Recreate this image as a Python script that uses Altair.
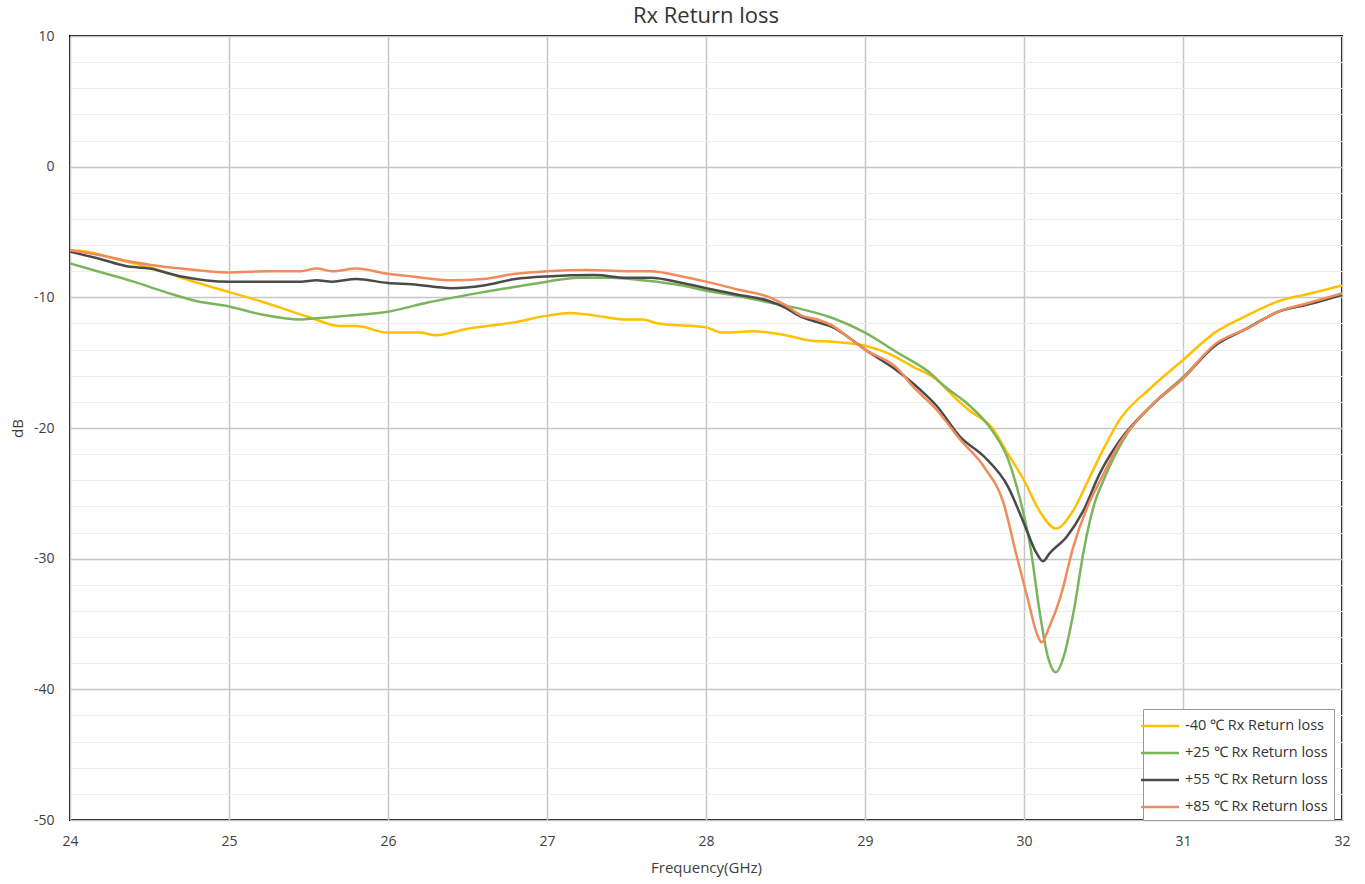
import altair as alt
import pandas as pd

SERIES = ["-40 ℃ Rx Return loss", "+25 ℃ Rx Return loss", "+55 ℃ Rx Return loss", "+85 ℃ Rx Return loss"]
COLORS = ["#FFC000", "#7AB55C", "#4A4A4A", "#F08B5B"]

f_m40 = [24.0, 24.1, 24.3, 24.5, 24.7, 25.0, 25.2, 25.5, 25.7, 25.8, 26.0, 26.2, 26.3, 26.5, 26.8, 27.0, 27.15,
         27.3, 27.5, 27.6, 27.7, 28.0, 28.1, 28.3, 28.5, 28.65, 28.8, 29.0, 29.15, 29.3, 29.45, 29.55, 29.65,
         29.8, 29.9, 30.0, 30.1, 30.2, 30.3, 30.4, 30.5, 30.6, 30.8, 31.0, 31.2, 31.4, 31.6, 31.8, 32.0]
v_m40 = [-6.4, -6.5, -7.1, -7.7, -8.5, -9.6, -10.3, -11.5, -12.2, -12.2, -12.7, -12.7, -12.9, -12.4, -11.9, -11.4,
         -11.2, -11.4, -11.7, -11.7, -12.0, -12.3, -12.7, -12.6, -12.9, -13.3, -13.4, -13.7, -14.3, -15.3, -16.3,
         -17.5, -18.6, -20.0, -22.0, -24.0, -26.4, -27.7, -26.5, -24.1, -21.6, -19.4, -16.9, -14.8, -12.7, -11.4,
         -10.3, -9.7, -9.1]

f_p25 = [24.0, 24.2, 24.4, 24.6, 24.8, 25.0, 25.2, 25.45, 25.55, 25.75, 26.0, 26.25, 26.6, 26.85, 27.0, 27.2, 27.4,
         27.6, 27.85, 28.0, 28.2, 28.4, 28.6, 28.8, 29.0, 29.2, 29.4, 29.5, 29.65, 29.8, 29.9, 29.97, 30.04, 30.1,
         30.15, 30.2, 30.25, 30.31, 30.38, 30.44, 30.5, 30.65, 30.8, 31.0, 31.2, 31.4, 31.6, 31.8, 32.0]
v_p25 = [-7.4, -8.1, -8.8, -9.6, -10.3, -10.7, -11.3, -11.7, -11.6, -11.4, -11.1, -10.4, -9.6, -9.1, -8.8, -8.5,
         -8.5, -8.7, -9.1, -9.5, -9.9, -10.4, -10.9, -11.6, -12.7, -14.2, -15.7, -16.8, -18.2, -20.2, -22.4, -25.2,
         -29.1, -34.2, -37.5, -38.7, -37.5, -34.2, -29.1, -25.9, -24.0, -20.4, -18.3, -16.1, -13.7, -12.4, -11.1,
         -10.5, -9.8]

f_p55 = [24.0, 24.2, 24.35, 24.5, 24.7, 25.0, 25.25, 25.45, 25.55, 25.65, 25.8, 26.0, 26.15, 26.4, 26.6, 26.8, 27.0,
         27.3, 27.5, 27.65, 27.85, 28.0, 28.2, 28.4, 28.5, 28.6, 28.7, 28.8, 28.9, 29.0, 29.2, 29.35, 29.45, 29.6,
         29.75, 29.9, 30.0, 30.08, 30.12, 30.16, 30.27, 30.37, 30.48, 30.6, 30.8, 31.0, 31.2, 31.4, 31.6, 31.8, 32.0]
v_p55 = [-6.5, -7.1, -7.6, -7.8, -8.4, -8.8, -8.8, -8.8, -8.7, -8.8, -8.6, -8.9, -9.0, -9.3, -9.1, -8.6, -8.4,
         -8.3, -8.5, -8.5, -8.9, -9.3, -9.8, -10.3, -10.8, -11.5, -11.9, -12.3, -13.1, -14.0, -15.6, -17.1, -18.3,
         -20.7, -22.2, -24.5, -27.3, -29.6, -30.2, -29.6, -28.3, -26.4, -23.4, -21.0, -18.3, -16.2, -13.7, -12.4,
         -11.1, -10.5, -9.8]

f_p85 = [24.0, 24.2, 24.35, 24.5, 24.7, 25.0, 25.25, 25.45, 25.55, 25.65, 25.8, 26.0, 26.15, 26.4, 26.6, 26.8, 27.0,
         27.25, 27.5, 27.65, 27.85, 28.0, 28.2, 28.4, 28.5, 28.6, 28.7, 28.8, 28.9, 29.0, 29.2, 29.3, 29.45, 29.6,
         29.75, 29.87, 29.95, 30.02, 30.08, 30.11, 30.16, 30.23, 30.31, 30.4, 30.48, 30.6, 30.8, 31.0, 31.2, 31.4,
         31.6, 31.8, 32.0]
v_p85 = [-6.4, -6.8, -7.2, -7.5, -7.8, -8.1, -8.0, -8.0, -7.8, -8.0, -7.8, -8.2, -8.4, -8.7, -8.6, -8.2, -8.0,
         -7.9, -8.0, -8.0, -8.4, -8.8, -9.4, -10.0, -10.6, -11.4, -11.7, -12.2, -13.1, -14.0, -15.4, -16.8, -18.6,
         -20.9, -23.0, -25.7, -29.6, -32.9, -35.7, -36.4, -35.2, -32.9, -29.1, -26.0, -24.0, -21.2, -18.3, -16.2,
         -13.6, -12.4, -11.1, -10.4, -9.7]

X_TICKS = [24, 25, 26, 27, 28, 29, 30, 31, 32]
Y_TICKS = list(range(-50, 11, 2))

frames = []
for name, fs, vs in zip(SERIES, [f_m40, f_p25, f_p55, f_p85], [v_m40, v_p25, v_p55, v_p85]):
    frames.append(pd.DataFrame({"freq": fs, "db": vs, "series": name}))
df = pd.concat(frames, ignore_index=True)

FONT = "Open Sans"

chart = alt.Chart(df).mark_line(strokeWidth=2.5, interpolate="monotone").encode(
    x=alt.X("freq:Q", scale=alt.Scale(domain=[24, 32], nice=False, zero=False),
            axis=alt.Axis(values=X_TICKS, title="Frequency(GHz)", grid=True, gridColor="#c6c6c6",
                          gridWidth=1.5, ticks=False, domain=False, labelPadding=14, labelFlush=False,
                          labelFontSize=14, labelColor="#404040", titleFontSize=15, titleColor="#404040",
                          titleFontWeight="normal", titlePadding=12, labelFont=FONT, titleFont=FONT)),
    y=alt.Y("db:Q", scale=alt.Scale(domain=[-50, 10], nice=False, zero=False),
            axis=alt.Axis(values=Y_TICKS, title="dB", grid=True,
                          gridColor={"expr": "datum.value % 10 === 0 ? '#c6c6c6' : '#ececec'"},
                          gridWidth={"expr": "datum.value % 10 === 0 ? 1.5 : 1"},
                          labelExpr="datum.value % 10 === 0 ? '' + datum.value : ''",
                          ticks=False, domain=False, labelPadding=16, labelFlush=False,
                          labelFontSize=14, labelColor="#404040", titleFontSize=15, titleColor="#404040",
                          titleFontWeight="normal", titlePadding=8, labelFont=FONT, titleFont=FONT)),
    color=alt.Color("series:N", scale=alt.Scale(domain=SERIES, range=COLORS),
                    legend=alt.Legend(title=None, orient="none", legendX=1073, legendY=673,
                                      symbolType="M-2,0L2,0", symbolSize=361, symbolStrokeWidth=2.5,
                                      labelFontSize=14.5, labelColor="#333333", labelFont=FONT,
                                      strokeColor="#999999", fillColor="white", padding=6,
                                      rowPadding=9, labelLimit=300, labelOffset=14)),
    order=alt.Order("freq:Q"),
).properties(
    width=1272, height=784,
    title=alt.TitleParams("Rx Return loss", fontSize=22, fontWeight="normal", color="#333333",
                          font=FONT, offset=1),
    autosize=alt.AutoSizeParams(type="none"),
    padding={"left": 70, "top": 36, "right": 23, "bottom": 64},
).configure_view(stroke="black", strokeWidth=2)

chart.save("out.html", embed_options={"renderer": "svg", "actions": False})
